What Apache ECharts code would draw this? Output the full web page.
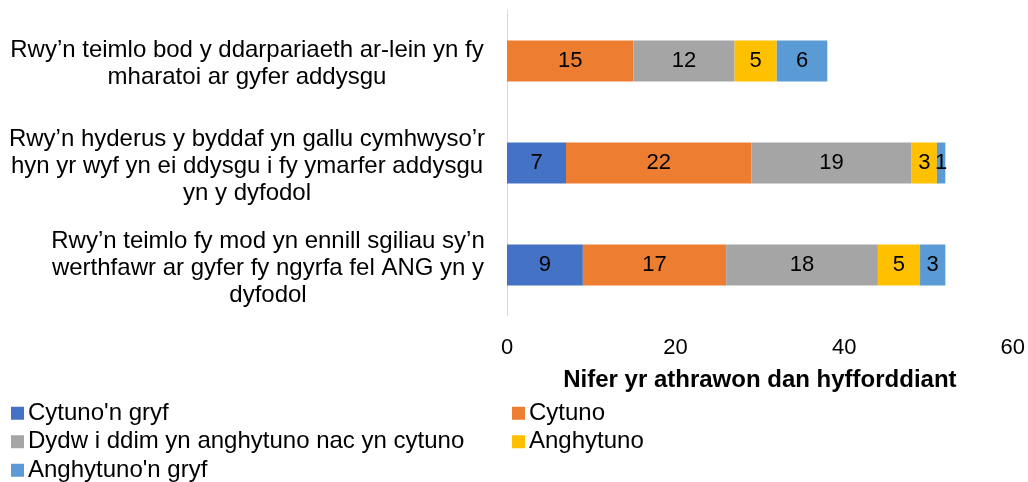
<!DOCTYPE html>
<html>
<head>
<meta charset="utf-8">
<script src="https://cdn.jsdelivr.net/npm/echarts@6/dist/echarts.min.js"></script>
<style>
  html, body { margin: 0; padding: 0; background: #fff; }
  #chart { width: 1028px; height: 482px; }
</style>
</head>
<body>
<div id="chart"></div>
<script>
// categories, top to bottom
var categories = [
  'Rwy’n teimlo bod y ddarpariaeth ar-lein yn fy\nmharatoi ar gyfer addysgu',
  'Rwy’n hyderus y byddaf yn gallu cymhwyso’r\nhyn yr wyf yn ei ddysgu i fy ymarfer addysgu\nyn y dyfodol',
  'Rwy’n teimlo fy mod yn ennill sgiliau sy’n\nwerthfawr ar gyfer fy ngyrfa fel ANG yn y\ndyfodol'
]
var seriesNames = [
  'Cytuno\'n gryf',
  'Cytuno',
  'Dydw i ddim yn anghytuno nac yn cytuno',
  'Anghytuno',
  'Anghytuno\'n gryf'
]
var cytunoGryf = [0, 7, 9]
var cytuno = [15, 22, 17]
var dydw = [12, 19, 18]
var anghytuno = [5, 3, 5]
var anghytunoGryf = [6, 1, 3]
var xTicks = [0, 20, 40, 60]

var values = [cytunoGryf, cytuno, dydw, anghytuno, anghytunoGryf]
var colors = ['#4472C4', '#ED7D31', '#A5A5A5', '#FFC000', '#5B9BD5']
// block width of each y label (lines are centred inside it)
var labelWidths = [474, 474, 432]

var chart = echarts.init(document.getElementById('chart'))

var rich = {}
labelWidths.forEach(function (w, i) {
  rich['l' + i] = { width: w, align: 'center', fontSize: 24, lineHeight: 27, color: '#000', fontFamily: 'Liberation Sans' }
})

chart.setOption({
  animation: false,
  textStyle: { fontFamily: 'Liberation Sans' },
  grid: {
    left: 507,
    right: 14,
    top: 10,
    bottom: 166
  },
  xAxis: {
    type: 'value',
    min: xTicks[0],
    max: xTicks[xTicks.length - 1],
    interval: 20,
    name: 'Nifer yr athrawon dan hyfforddiant',
    nameLocation: 'middle',
    nameGap: 52,
    nameTextStyle: { fontSize: 24, fontWeight: 'bold', color: '#000' },
    axisLine: { show: false },
    axisTick: { show: false },
    splitLine: { show: false },
    axisLabel: { fontSize: 22, color: '#000', margin: 21 }
  },
  yAxis: {
    type: 'category',
    inverse: true,
    data: categories,
    axisLine: { show: true, lineStyle: { color: '#D9D9D9', width: 1 } },
    axisTick: { show: false },
    axisLabel: {
      margin: 23,
      align: 'right',
      padding: [6, 0, 0, 0],
      rich: rich,
      formatter: function (value, idx) {
        return value.split('\n').map(function (line) {
          return '{l' + idx + '|' + line + '}'
        }).join('\n')
      }
    }
  },
  legend: {
    left: 6,
    top: 394,
    width: 1020,
    itemGap: 0,
    icon: 'rect',
    itemWidth: 13,
    itemHeight: 13,
    textStyle: { fontSize: 24, color: '#000', width: 484, lineHeight: 28.5, padding: [0, 0, 0, -1] },
    data: seriesNames
  },
  series: seriesNames.map(function (name, i) {
    return {
      name: name,
      type: 'bar',
      stack: 'total',
      barWidth: 41,
      itemStyle: { color: colors[i] },
      label: {
        show: true,
        position: 'inside',
        color: '#000',
        fontSize: 22,
        formatter: function (p) { return p.value === 0 ? '' : p.value }
      },
      data: values[i]
    }
  })
})
</script>
</body>
</html>
